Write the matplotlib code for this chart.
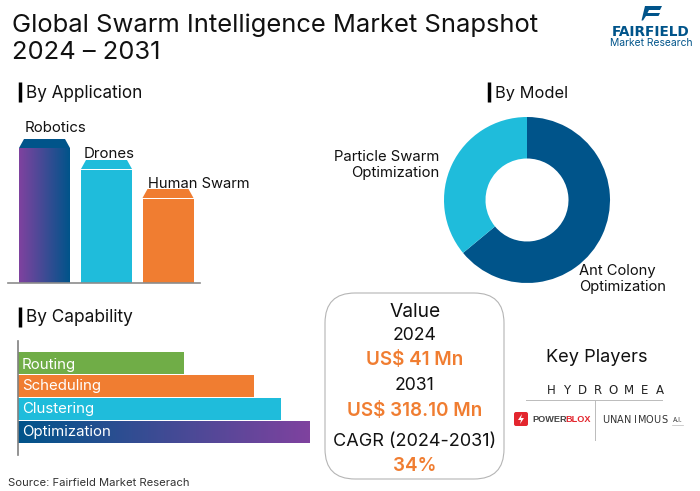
import numpy as np
import matplotlib
matplotlib.use("Agg")
import matplotlib.pyplot as plt
from matplotlib.colors import LinearSegmentedColormap
from matplotlib.patches import FancyBboxPatch, Polygon

plt.rcParams['font.family'] = ['Inter', 'DejaVu Sans']

W, H = 700, 491

app_names = ["Robotics", "Drones", "Human Swarm"]
app_values = [134, 113, 84]

cap_names = ["Routing", "Scheduling", "Clustering", "Optimization"]
cap_values = [166, 236, 263, 292]

model_names = ["Ant Colony\nOptimization", "Particle Swarm\nOptimization"]
model_values = [64, 36]

BLUE = "#00548a"
CYAN = "#1fbcdb"
ORANGE = "#f07d31"
GREEN = "#70ad47"
PURPLE = "#7f429f"
grad = LinearSegmentedColormap.from_list("grad", [PURPLE, BLUE])


def px_axes(fig, x0, y0, x1, y1):
    # axes from pixel box, y measured from the top of the image
    return fig.add_axes([x0 / W, 1 - y1 / H, (x1 - x0) / W, (y1 - y0) / H])


def spaced(ax, word, x0, x1, y, **kw):
    # logo lettering is much wider than any installed font, so place letters one by one
    for ch, x in zip(word, np.linspace(x0, x1, len(word))):
        ax.text(x, y, ch, ha="center", va="center", **kw)


fig = plt.figure(figsize=(7, 4.91), dpi=100, facecolor="white")

# overlay in pixel coords for text and decoration
bg = fig.add_axes([0, 0, 1, 1], zorder=5)
bg.set_xlim(0, W)
bg.set_ylim(H, 0)
bg.axis("off")
bg.patch.set_alpha(0)

bg.text(12, 25, "Global Swarm Intelligence Market Snapshot", fontsize=18.4, va="center", color="#111111")
bg.text(12, 52, "2024 \u2013 2031", fontsize=18.4, va="center", color="#111111")

for x, y, label, fs in [(26, 92, "By Application", 12.3), (495, 92, "By Model", 11.8), (26, 317, "By Capability", 12.4)]:
    bg.plot([x - 6, x - 6], [y - 10, y + 10], color="black", lw=2.5, solid_capstyle="butt")
    bg.text(x, y + 1, label, fontsize=fs, va="center", color="#111111")

# By Application
ax = px_axes(fig, 8, 133, 200, 283)
ax.set_xlim(8, 200)
ax.set_ylim(0, 150)
ax.axis("off")
app_x = [44.5, 106.5, 168]
bars = ax.bar(app_x, app_values, width=51, color=[BLUE, CYAN, ORANGE])
img = np.linspace(0, 1, 128).reshape(1, -1)
ax.imshow(img, cmap=grad, aspect="auto", extent=[19, 70, 0, app_values[0]], zorder=3)
ax.set_xlim(8, 200)
ax.set_ylim(0, 150)
for b, c in zip(bars, [BLUE, CYAN, ORANGE]):
    l, r, t = b.get_x(), b.get_x() + b.get_width(), b.get_height()
    ax.add_patch(Polygon([(l, t + 1), (r, t + 1), (r - 5, t + 10), (l + 5, t + 10)], color=c, lw=0))
ax.plot([8, 200], [0, 0], color="#8c8c8c", lw=1.2, clip_on=False, zorder=4)
for name, tx, ty, fs in zip(app_names, [25, 84, 148], [128, 154, 184], [10.8, 10.8, 10.6]):
    bg.text(tx, ty, name, fontsize=fs, va="center", color="#111111")

# By Capability
ax = px_axes(fig, 18, 350, 320, 445)
ax.set_xlim(0, 302)
ax.set_ylim(3.56, -0.57)
ax.axis("off")
cap_y = np.arange(len(cap_names))
bars = ax.barh(cap_y, cap_values, height=0.93, color=[GREEN, ORANGE, CYAN, BLUE])
b = bars[-1]
img = np.linspace(0, 1, 256).reshape(1, -1)
ax.imshow(img, cmap=LinearSegmentedColormap.from_list("g2", [BLUE, PURPLE]), aspect="auto",
          extent=[0, cap_values[-1], b.get_y() + b.get_height(), b.get_y()], zorder=3)
ax.set_xlim(0, 302)
ax.set_ylim(3.56, -0.57)
for name, y in zip(cap_names, [365, 386, 409, 432]):
    bg.text(22, y, name, fontsize=10.8, va="center", color="white")
bg.plot([17.5, 17.5], [341, 455], color="#808080", lw=1.2)

# By Model
ax = px_axes(fig, 434, 107, 620, 293)
ax.pie(model_values, colors=[BLUE, CYAN], startangle=90, counterclock=False, radius=1,
       wedgeprops=dict(width=0.5, linewidth=0))
ax.set_xlim(-93 / 83, 93 / 83)
ax.set_ylim(-93 / 83, 93 / 83)
bg.text(439, 165, model_names[1], fontsize=10.7, va="center", ha="right", linespacing=1.1, color="#111111")
bg.text(579, 279, model_names[0], fontsize=10.6, va="center", ha="left", linespacing=1.1, color="#111111")

# Value box
bg.add_patch(FancyBboxPatch((325, 293), 179, 186, boxstyle="round,pad=0,rounding_size=30",
                            fc="white", ec="#b5b5b5", lw=0.8))
for txt, y, col, fs, wt in [
    ("Value", 312, "#111111", 13.8, "normal"),
    ("2024", 336, "#111111", 12.7, "normal"),
    ("US$ 41 Mn", 360, ORANGE, 13.6, "semibold"),
    ("2031", 386, "#111111", 12.7, "normal"),
    ("US$ 318.10 Mn", 411, ORANGE, 13.6, "semibold"),
    ("CAGR (2024-2031)", 441, "#111111", 13, "normal"),
    ("34%", 466, ORANGE, 13.6, "semibold"),
]:
    bg.text(415, y, txt, fontsize=fs, color=col, weight=wt, ha="center", va="center")

# Key players
bg.text(597, 358, "Key Players", fontsize=13.1, ha="center", va="center", color="#111111")
spaced(bg, "HYDROMEA", 551, 660, 390, fontsize=8.5, color="#222222", family="DejaVu Sans")
bg.plot([526, 662], [399.5, 399.5], color="#bbbbbb", lw=0.7)
bg.plot([594.5, 594.5], [400, 440], color="#bbbbbb", lw=0.7)
bg.add_patch(FancyBboxPatch((514, 412), 14, 14, boxstyle="round,pad=0,rounding_size=2", fc="#e3262e", ec="none"))
bg.add_patch(Polygon([(522, 414), (518, 420), (521, 420), (520, 424), (524, 418), (521, 418)], color="white", lw=0))
bg.text(532, 419, "POWER", fontsize=6.6, weight="bold", color="#444444", va="center", family="Liberation Sans")
bg.text(565, 419, "BLOX", fontsize=6.6, weight="bold", color="#e3262e", va="center", family="Liberation Sans")
spaced(bg, "UNANIMOUS", 606, 664, 420, fontsize=7, color="#333333", family="Liberation Sans Narrow")
bg.text(673, 419.5, "A.I.", fontsize=4.6, color="#333333", va="center")
bg.plot([672, 683], [424.5, 424.5], color="#bbbbbb", lw=0.5)

# Logo
bg.add_patch(Polygon([(645, 6), (662, 6), (660, 10), (649, 10), (647.5, 13), (660, 13), (658.5, 16), (646, 16), (643, 20.5), (641.5, 20.5)],
                     color=BLUE, lw=0))
bg.text(651, 32, "FAIRFIELD", fontsize=9.8, weight="bold", color=BLUE, ha="center", va="center", family="DejaVu Sans")
bg.text(651, 43, "Market Research", fontsize=7.4, color=BLUE, ha="center", va="center")

bg.text(8, 483, "Source: Fairfield Market Reserach", fontsize=8.1, va="center", color="#333333")

fig.savefig("out.png", dpi=100)
